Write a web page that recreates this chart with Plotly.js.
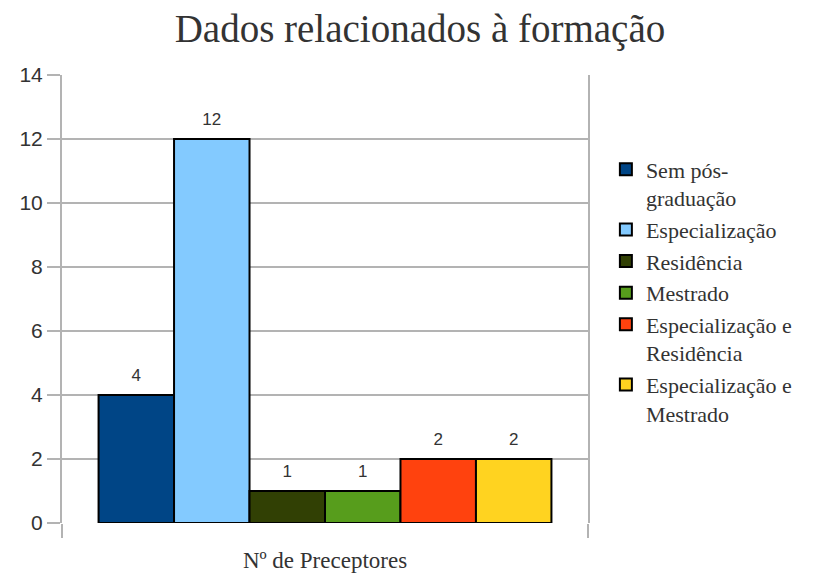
<!DOCTYPE html>
<html>
<head>
<meta charset="utf-8">
<script src="https://cdn.plot.ly/plotly-3.0.1.min.js"></script>
<style>html,body{margin:0;padding:0;background:#fff;}#chart{width:817px;height:576px;}</style>
</head>
<body>
<div id="chart"></div>
<script>
const category = ['Nº de Preceptores'];
const seriesNames = ['Sem pós-<br>graduação', 'Especialização', 'Residência', 'Mestrado', 'Especialização e<br>Residência', 'Especialização e<br>Mestrado'];
const seriesValues = [4, 12, 1, 1, 2, 2];
const seriesColors = ['#004586', '#83caff', '#314004', '#579d1c', '#ff420e', '#ffd320'];

const SERIF = 'Liberation Serif';
const SANS = 'Liberation Sans';

const bars = seriesNames.map((name, i) => ({
  type: 'bar',
  name: name,
  legendgroup: 'g' + i,
  offsetgroup: 'o' + i,
  x: category,
  y: [seriesValues[i]],
  marker: {color: seriesColors[i], line: {color: '#000', width: 2}},
  hoverinfo: 'skip'
}));

const labels = seriesNames.map((name, i) => ({
  type: 'scatter',
  mode: 'markers+text',
  showlegend: false,
  legendgroup: 'g' + i,
  offsetgroup: 'o' + i,
  x: category,
  y: [seriesValues[i]],
  text: [String(seriesValues[i])],
  textposition: 'top center',
  textfont: {family: SANS, size: 17, color: '#333'},
  marker: {size: 14, color: 'rgba(0,0,0,0)'},
  cliponaxis: false,
  hoverinfo: 'skip'
}));

const layout = {
  width: 817, height: 576,
  margin: {l: 62, r: 229, t: 75, b: 53},
  paper_bgcolor: '#fff', plot_bgcolor: '#fff',
  barmode: 'group', bargap: 0.139, bargroupgap: 0,
  scattermode: 'group', scattergap: 0.139,
  showlegend: true,
  title: {text: 'Dados relacionados à formação', x: 0.514, xanchor: 'center', xref: 'container', y: 0.951, yanchor: 'middle', yref: 'container',
    font: {family: SERIF, size: 39, color: '#333'}},
  xaxis: {
    type: 'category', range: [-0.5, 0.5], showticklabels: false,
    ticks: 'outside', tickson: 'boundaries', ticklen: 14, tickcolor: '#b3b3b3', tickwidth: 2,
    showline: false, showgrid: false, zeroline: false,
    title: {text: 'Nº de Preceptores', standoff: 28, font: {family: SERIF, size: 23, color: '#333'}}
  },
  yaxis: {
    range: [0, 14], dtick: 2, tick0: 0,
    ticks: 'outside', ticklen: 13, tickcolor: '#b3b3b3', tickwidth: 2,
    showgrid: true, gridcolor: '#b3b3b3', gridwidth: 2,
    showline: true, linecolor: '#b3b3b3', linewidth: 2, mirror: true,
    zeroline: false,
    tickfont: {family: SANS, size: 21, color: '#333'}
  },
  legend: {
    x: 1.034, xanchor: 'left', y: 0.836, yanchor: 'top',
    valign: 'top', tracegroupgap: 0,
    font: {family: SERIF, size: 22, color: '#333'},
    bgcolor: 'rgba(0,0,0,0)'
  }
};

Plotly.newPlot('chart', bars.concat(labels), layout, {displayModeBar: false, staticPlot: true});
</script>
</body>
</html>
